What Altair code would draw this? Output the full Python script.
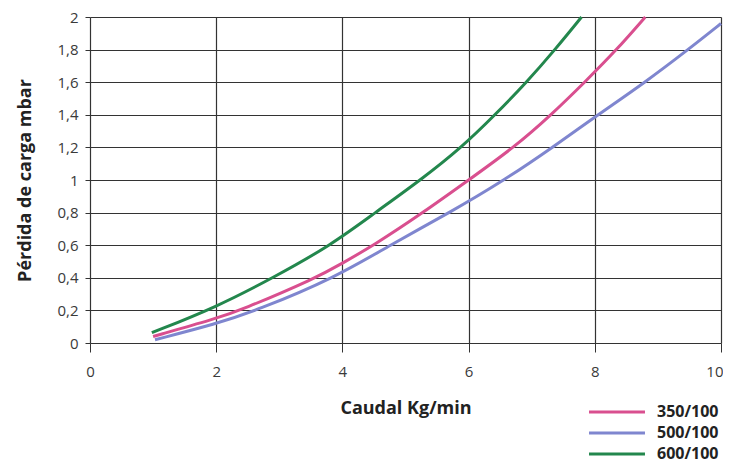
import altair as alt
import pandas as pd

series_names = ["350/100", "500/100", "600/100"]
colors = ["#d94f8f", "#7f86cf", "#23874d"]

pink_x = [1.0, 2.0, 2.38, 3.59, 4.0, 4.5, 5.28, 6.0, 6.72, 7.31, 7.84, 8.35, 8.80]
pink_y = [0.04, 0.15, 0.20, 0.40, 0.49, 0.60, 0.80, 1.00, 1.20, 1.40, 1.60, 1.80, 2.00]

blue_x = [1.03, 2.0, 2.64, 3.88, 4.75, 5.70, 6.57, 7.33, 8.05, 8.80, 9.48, 10.0]
blue_y = [0.02, 0.117, 0.20, 0.40, 0.60, 0.80, 1.00, 1.20, 1.40, 1.60, 1.80, 1.96]

green_x = [0.98, 2.0, 2.90, 3.82, 4.52, 5.24, 5.89, 6.42, 6.92, 7.37, 7.79]
green_y = [0.063, 0.22, 0.40, 0.60, 0.80, 1.00, 1.20, 1.40, 1.60, 1.80, 2.00]

x_ticks = [0, 2, 4, 6, 8, 10]
y_ticks = [0, 0.2, 0.4, 0.6, 0.8, 1.0, 1.2, 1.4, 1.6, 1.8, 2.0]

rows = []
for name, xs, ys in zip(series_names, [pink_x, blue_x, green_x], [pink_y, blue_y, green_y]):
    for i, (a, b) in enumerate(zip(xs, ys)):
        rows.append({"serie": name, "caudal": a, "perdida": b, "orden": i})
df = pd.DataFrame(rows)

FONT = "Open Sans"

chart = alt.Chart(df).mark_line(strokeWidth=3, interpolate="basis").encode(
    x=alt.X("caudal:Q", title="Caudal Kg/min",
            scale=alt.Scale(domain=[0, 10], nice=False),
            axis=alt.Axis(values=x_ticks, tickSize=9, labelPadding=12, titlePadding=20,
                          labelAlign=alt.condition("datum.value == 10", alt.value("right"), alt.value("center")),
                          labelOffset=alt.condition("datum.value == 10", alt.value(2), alt.value(0)),
                          labelFontSize=15, titleFontSize=18, titleFontWeight="bold",
                          labelColor="#3a3a3a", titleColor="#222222", tickColor="#333333",
                          gridColor="#333333", gridOpacity=1, gridWidth=1.2, domain=False,
                          labelFont=FONT, titleFont=FONT)),
    y=alt.Y("perdida:Q", title="Pérdida de carga mbar",
            scale=alt.Scale(domain=[0, 2], nice=False),
            axis=alt.Axis(values=y_ticks, tickSize=5, labelPadding=7, titlePadding=22,
                          labelExpr="replace(format(datum.value, '~g'), '.', ',')",
                          labelFontSize=15, titleFontSize=18, titleFontWeight="bold",
                          labelColor="#3a3a3a", titleColor="#222222", tickColor="#333333",
                          gridColor="#333333", gridOpacity=1, gridWidth=1.2, domain=False,
                          labelFont=FONT, titleFont=FONT)),
    color=alt.Color("serie:N", scale=alt.Scale(domain=series_names, range=colors),
                    legend=alt.Legend(title=None, orient="none", legendX=516, legendY=384,
                                      symbolType="M-3,0L3,0", symbolSize=348, symbolStrokeWidth=3,
                                      labelFontSize=16, labelFontWeight="bold", labelColor="#222222",
                                      labelFont=FONT, labelOffset=29, rowPadding=2, padding=0)),
    order="orden:Q",
).properties(
    width=631, height=326,
    autosize=alt.AutoSizeParams(type="none"),
    padding={"left": 82, "top": 9, "right": 2, "bottom": 120},
).configure_view(stroke=None)

chart.save("out.html", embed_options={"renderer": "svg", "actions": False})
